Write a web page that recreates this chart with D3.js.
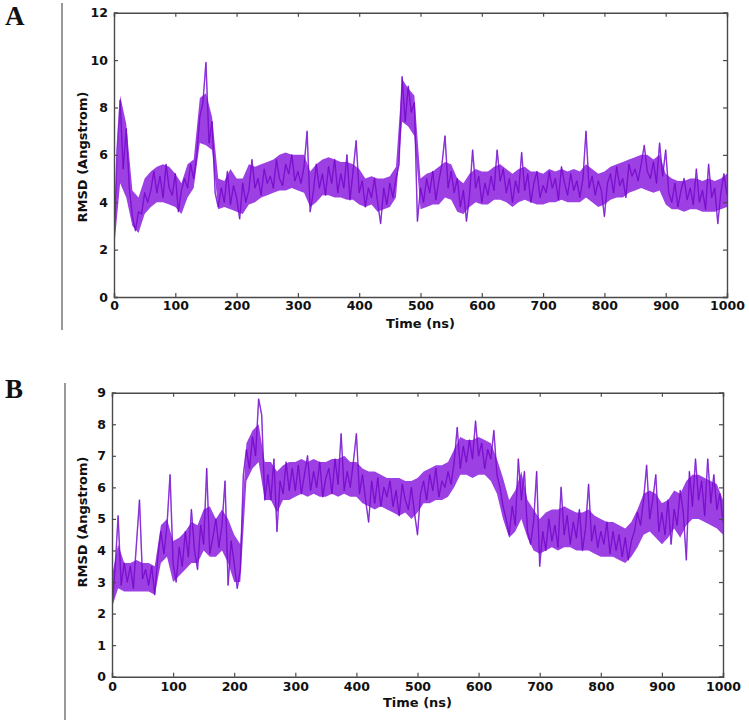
<!DOCTYPE html>
<html><head><meta charset="utf-8">
<script src="https://cdn.jsdelivr.net/npm/d3@7"></script>
<style>body{margin:0;background:#fff}svg{display:block}</style>
</head><body>
<script>
// ---------- data ----------
const xTicks = [0,100,200,300,400,500,600,700,800,900,1000];
const yTicksA = [0,2,4,6,8,10,12];
const yTicksB = [0,1,2,3,4,5,6,7,8,9];
const lineStep = 5;   // ns between line samples
const bandStep = 10;  // ns between band samples

// Panel A: RMSD trace sampled every 5 ns
const rmsdA = [2.2,
 6.2,8.3,5.4,7.1,4.6,3.4,2.8,3.6,3.5,4.4,
 4.0,4.5,5.3,4.4,5.1,4.2,5.6,4.6,4.3,5.2,
 3.6,4.5,5.0,4.6,5.6,5.0,6.0,7.6,8.2,9.9,
 6.5,7.4,4.4,3.8,4.6,4.0,5.3,3.9,4.7,4.2,
 3.3,4.8,4.0,4.5,5.8,4.6,5.0,4.3,5.4,4.8,
 5.1,4.6,5.8,5.0,4.7,5.6,5.2,6.0,4.9,5.3,
 4.8,5.5,7.0,3.6,4.4,5.6,4.6,5.2,4.3,5.5,
 4.8,5.8,4.4,5.2,4.6,6.0,4.1,5.3,6.6,4.4,
 4.9,3.8,4.6,4.2,5.0,4.0,3.1,4.6,3.9,4.8,
 4.2,5.0,5.6,9.3,7.4,8.9,7.8,8.2,3.2,4.6,
 4.0,5.0,4.4,5.3,4.1,4.9,5.6,6.8,4.6,5.3,
 4.4,5.0,3.8,4.5,3.2,4.3,6.2,4.6,5.1,4.0,
 4.8,4.3,5.1,4.5,6.2,4.9,5.4,4.4,5.0,4.0,
 4.9,4.4,6.1,4.5,5.2,4.0,4.8,5.3,4.2,4.7,
 4.4,5.3,4.6,5.0,4.1,5.5,4.8,4.3,5.2,4.5,
 4.9,4.2,5.0,7.0,4.6,5.1,4.3,4.9,4.5,3.4,
 4.8,5.2,4.4,5.5,4.7,5.0,4.2,5.6,5.1,5.4,
 4.9,5.6,6.4,5.3,5.0,5.7,4.8,6.5,5.1,6.2,
 4.4,4.0,4.8,3.8,4.5,5.0,4.1,4.6,3.9,5.4,
 4.0,4.5,3.7,5.6,4.2,4.6,3.1,4.4,5.2,4.3];
// Panel A: fluctuation band (low / high) every 10 ns
const lowA = [2.0,4.8,4.2,3.0,2.7,3.5,3.8,4.0,4.0,3.9,
 3.8,3.5,4.2,4.6,6.5,6.4,6.2,3.7,3.8,3.7,
 3.6,3.5,3.9,4.0,4.2,4.3,4.4,4.5,4.5,4.6,
 4.5,4.4,3.8,4.0,4.3,4.3,4.2,4.2,4.1,4.1,
 3.9,3.8,3.9,3.6,3.7,3.8,4.2,7.4,7.2,6.8,
 3.7,3.8,3.9,3.9,4.2,4.1,3.6,3.5,3.8,4.0,
 3.9,3.9,4.1,4.1,4.0,3.8,4.0,4.1,4.0,3.9,
 3.9,4.0,4.0,4.1,4.0,4.0,4.0,4.2,4.0,3.8,
 3.9,4.1,4.2,4.2,4.4,4.5,4.6,4.5,4.4,4.5,
 3.9,3.7,3.7,3.6,3.7,3.7,3.6,3.6,3.6,3.7,
 3.8];
const highA = [3.0,8.5,7.3,4.5,4.2,5.0,5.3,5.5,5.6,5.5,
 5.2,4.8,5.6,5.8,8.4,8.6,7.6,5.0,4.9,5.4,
 5.0,5.0,5.6,5.5,5.6,5.7,5.8,6.0,6.1,6.0,
 6.0,6.0,5.3,5.6,5.8,5.9,5.8,5.7,5.7,5.6,
 5.4,5.0,5.1,5.0,5.0,5.1,5.5,9.2,8.8,8.5,
 5.0,5.2,5.3,5.5,5.7,5.6,5.0,4.8,5.2,5.4,
 5.3,5.3,5.5,5.6,5.4,5.2,5.4,5.5,5.3,5.3,
 5.2,5.4,5.3,5.4,5.3,5.4,5.3,5.6,5.4,5.2,
 5.3,5.5,5.6,5.7,5.8,5.9,6.0,6.0,5.8,6.0,
 5.2,5.0,4.9,4.9,5.0,5.0,4.9,5.0,4.9,5.0,
 5.2];

// Panel B: RMSD trace sampled every 5 ns
const rmsdB = [2.2,
 3.4,5.1,2.9,3.6,3.0,3.5,2.8,4.2,5.6,3.1,
 3.4,2.9,3.5,2.6,3.8,4.6,3.9,4.8,6.4,3.6,
 3.0,4.1,3.5,4.6,3.8,5.3,4.0,3.4,4.8,4.2,
 6.6,3.9,4.4,5.0,4.1,4.8,6.2,2.9,4.3,3.6,
 2.8,3.4,6.4,7.2,6.6,7.6,7.0,8.8,8.3,5.6,
 6.4,5.6,6.9,4.6,6.2,5.8,6.8,5.9,6.6,5.9,
 6.7,5.8,6.4,7.0,5.9,6.5,6.0,6.8,5.7,6.3,
 6.6,5.8,6.9,6.1,7.7,5.9,6.5,6.0,6.8,7.7,
 5.8,6.4,5.6,4.9,6.2,5.5,6.3,5.4,6.0,5.7,
 6.2,5.4,5.9,5.1,6.1,5.6,5.3,6.0,5.2,4.5,
 5.8,6.2,5.6,6.4,5.9,6.6,5.7,6.2,6.0,6.5,
 6.1,6.8,7.9,6.6,7.3,6.8,7.5,6.9,8.1,7.0,
 7.4,6.6,7.2,6.9,7.8,6.4,6.0,5.4,5.0,4.5,
 5.4,4.8,6.9,5.6,6.5,4.6,4.2,4.9,6.5,3.5,
 4.6,4.0,5.0,4.3,4.8,4.1,6.0,4.5,5.1,4.2,
 4.9,4.4,5.3,4.0,4.7,6.1,4.3,4.8,4.1,4.6,
 4.2,4.9,3.9,4.6,4.0,4.5,3.8,4.4,3.7,4.3,
 4.6,5.2,4.8,5.6,6.7,5.0,5.6,6.4,4.6,5.2,
 4.5,5.6,4.2,5.3,4.8,5.9,5.2,3.7,6.5,5.4,
 6.9,5.6,6.2,5.1,6.9,5.5,6.4,5.3,5.8,4.9];
// Panel B: fluctuation band (low / high) every 10 ns
const lowB = [2.2,2.8,2.7,2.7,2.7,2.7,2.7,2.6,3.6,3.8,
 3.0,3.2,3.4,3.6,3.6,4.0,3.8,3.8,4.0,3.6,
 3.0,3.0,6.2,6.6,6.8,5.6,5.6,5.2,5.6,5.6,
 5.7,5.8,5.7,5.8,5.7,5.7,5.8,5.7,5.8,5.7,
 5.7,5.5,5.4,5.3,5.4,5.3,5.2,5.1,5.2,5.0,
 5.2,5.5,5.5,5.6,5.6,5.7,6.0,6.4,6.4,6.3,
 6.4,6.4,6.2,5.8,5.0,4.4,4.6,5.0,4.4,4.0,
 3.9,4.0,4.1,4.0,4.1,4.1,4.0,4.0,4.0,3.9,
 3.8,3.8,3.8,3.7,3.6,3.8,4.1,4.5,4.6,4.4,
 4.2,4.4,4.7,4.4,4.8,5.0,5.0,4.9,4.8,4.7,
 4.5];
const highB = [3.2,4.2,3.6,3.6,3.7,3.6,3.6,3.5,4.8,5.0,
 4.3,4.4,4.6,4.9,4.8,5.3,5.4,5.0,5.3,5.0,
 4.5,4.2,7.4,7.8,8.0,6.8,6.8,6.5,6.7,6.8,
 6.8,6.9,6.8,6.9,6.8,6.8,6.9,6.9,7.0,6.8,
 6.8,6.6,6.5,6.5,6.4,6.3,6.3,6.3,6.2,6.2,
 6.3,6.5,6.6,6.7,6.7,6.8,7.2,7.6,7.5,7.5,
 7.6,7.5,7.4,6.9,6.3,5.6,5.9,6.5,5.6,5.3,
 5.0,5.2,5.3,5.3,5.4,5.3,5.2,5.2,5.3,5.1,
 5.0,4.9,4.9,4.8,4.7,4.9,5.3,5.8,5.9,5.8,
 5.5,5.6,5.9,5.8,6.2,6.4,6.4,6.3,6.2,6.1,
 5.6];

// ---------- drawing ----------
const W = 749, H = 726;
const svg = d3.select("body").append("svg").attr("width", W).attr("height", H);

const AXIS_FONT = "'DejaVu Sans', Verdana, sans-serif";
const LETTER_FONT = "'Liberation Serif', 'Times New Roman', serif";
const frameColor = "#4a4a4a";
const bandColor = "#8410dc";
const lineColor = "#a458ec";

function panel(cfg) {
  const x = d3.scaleLinear().domain([0, 1000]).range([cfg.left, cfg.right]);
  const y = d3.scaleLinear().domain([0, cfg.ymax]).range([cfg.bottom, cfg.top]);
  const g = svg.append("g");

  // separator line and panel letter
  g.append("line").attr("x1", cfg.sepX).attr("x2", cfg.sepX)
    .attr("y1", cfg.sepY0).attr("y2", cfg.sepY1)
    .attr("stroke", "#555").attr("stroke-width", 1.2);
  g.append("text").attr("x", 5).attr("y", cfg.letterY)
    .attr("font-family", LETTER_FONT).attr("font-weight", "bold")
    .attr("font-size", 27).attr("fill", "#111").text(cfg.letter);

  // data: line (light fringe) under the dense band core
  const clipId = "clip" + cfg.letter;
  g.append("clipPath").attr("id", clipId).append("rect")
    .attr("x", cfg.left).attr("y", cfg.top)
    .attr("width", cfg.right - cfg.left).attr("height", cfg.bottom - cfg.top);
  const dg = g.append("g").attr("clip-path", `url(#${clipId})`);
  const line = d3.line().x((d, i) => x(i * lineStep)).y(d => y(d));
  dg.append("path").datum(cfg.values).attr("d", line)
    .attr("fill", "none").attr("stroke", lineColor)
    .attr("stroke-width", 1.5).attr("stroke-linejoin", "round");
  const area = d3.area()
    .x((d, i) => x(i * bandStep))
    .y0((d, i) => y(cfg.low[i]))
    .y1((d, i) => y(cfg.high[i]))
    .curve(d3.curveLinear);
  dg.append("path").datum(cfg.low).attr("d", area)
    .attr("fill", bandColor).attr("opacity", 0.8);
  dg.append("path").datum(cfg.values).attr("d", line)
    .attr("fill", "none").attr("stroke", "#6400b4").attr("stroke-opacity", 0.5)
    .attr("stroke-width", 0.9).attr("stroke-linejoin", "round");

  // axes (ticks inward on all four sides)
  const bottom = g.append("g").attr("transform", `translate(0,${cfg.bottom})`)
    .call(d3.axisBottom(x).tickValues(xTicks).tickSize(-4).tickPadding(6).tickFormat(d3.format("d")));
  const top = g.append("g").attr("transform", `translate(0,${cfg.top})`)
    .call(d3.axisTop(x).tickValues(xTicks).tickSize(-4).tickFormat(""));
  const left = g.append("g").attr("transform", `translate(${cfg.left},0)`)
    .call(d3.axisLeft(y).tickValues(cfg.yTicks).tickSize(-4).tickPadding(6).tickFormat(d3.format("d")));
  const right = g.append("g").attr("transform", `translate(${cfg.right},0)`)
    .call(d3.axisRight(y).tickValues(cfg.yTicks).tickSize(-4).tickFormat(""));
  [bottom, top, left, right].forEach(a => {
    a.select(".domain").attr("stroke", frameColor).attr("stroke-width", 1.4);
    a.selectAll(".tick line").attr("stroke", frameColor).attr("stroke-width", 1.2);
    a.selectAll("text").attr("font-family", AXIS_FONT).attr("font-weight", "bold")
      .attr("font-size", 12.5).attr("fill", "#111");
  });
  bottom.selectAll(".tick text").attr("dy", cfg.xLabelDy);

  // axis titles
  g.append("text").attr("x", (cfg.left + cfg.right) / 2).attr("y", cfg.xTitleY)
    .attr("text-anchor", "middle").attr("font-family", AXIS_FONT)
    .attr("font-weight", "bold").attr("font-size", 13).attr("fill", "#111")
    .text("Time (ns)");
  g.append("text")
    .attr("transform", `translate(${cfg.yTitleX},${cfg.yTitleY}) rotate(-90)`)
    .attr("text-anchor", "middle").attr("font-family", AXIS_FONT)
    .attr("font-weight", "bold").attr("font-size", 13).attr("fill", "#111")
    .text("RMSD (Angstrom)");
}

panel({letter: "A", letterY: 25, sepX: 62, sepY0: 3, sepY1: 330,
  left: 114, right: 727, top: 12.7, bottom: 297, ymax: 12, yTicks: yTicksA,
  values: rmsdA, low: lowA, high: highA,
  xLabelDy: "0.55em", xTitleY: 328, yTitleX: 87, yTitleY: 157});
panel({letter: "B", letterY: 398, sepX: 65, sepY0: 383, sepY1: 720,
  left: 112, right: 723, top: 392.7, bottom: 676.7, ymax: 9, yTicks: yTicksB,
  values: rmsdB, low: lowB, high: highB,
  xLabelDy: "0.7em", xTitleY: 707, yTitleX: 87, yTitleY: 522});
</script>
</body></html>
